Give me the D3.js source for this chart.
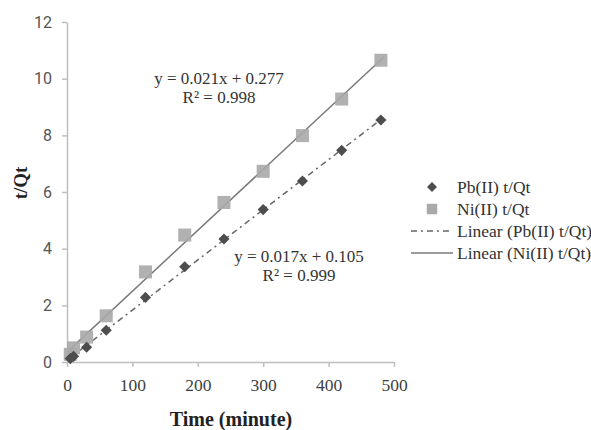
<!DOCTYPE html>
<html>
<head>
<meta charset="utf-8">
<script src="https://cdn.jsdelivr.net/npm/d3@7"></script>
<style>
  body { margin: 0; background: #fff; }
  svg { display: block; }
</style>
</head>
<body>
<svg id="chart" width="591" height="430"></svg>
<script>
// sampling times (minute)
const times = [5, 10, 30, 60, 120, 180, 240, 300, 360, 420, 480];
// t/Qt values
const pbValues = [0.12, 0.2, 0.52, 1.12, 2.28, 3.36, 4.34, 5.38, 6.39, 7.47, 8.54];
const niValues = [0.27, 0.5, 0.88, 1.63, 3.18, 4.48, 5.63, 6.73, 7.99, 9.28, 10.65];
const xTicks = [0, 100, 200, 300, 400, 500];
const yTicks = [0, 2, 4, 6, 8, 10, 12];
const legendLabels = ["Pb(II) t/Qt", "Ni(II) t/Qt", "Linear (Pb(II) t/Qt)", "Linear (Ni(II) t/Qt)"];
const pbEquation = ["y = 0.017x + 0.105", "R² = 0.999"];
const niEquation = ["y = 0.021x + 0.277", "R² = 0.998"];

const svg = d3.select("#chart");

let x = d3.scaleLinear().domain([0, 500]).range([67, 394]);
let y = d3.scaleLinear().domain([0, 12]).range([362, 22]);

const serif = "'Liberation Serif', 'DejaVu Serif', serif";
const axisColor = "#bfbfbf";

// least squares fit, same as the spreadsheet trendline
function fit(xs, ys) {
    let n = xs.length;
    let mx = d3.mean(xs), my = d3.mean(ys);
    let sxy = 0, sxx = 0;
    for (let i = 0; i < n; i++) {
        sxy += (xs[i] - mx) * (ys[i] - my);
        sxx += (xs[i] - mx) * (xs[i] - mx);
    }
    let b = sxy / sxx;
    return { slope: b, icpt: my - b * mx };
}

// axes
let xAxis = svg.append("g")
    .attr("transform", "translate(0," + y(0) + ")")
    .call(d3.axisBottom(x).tickValues(xTicks).tickSize(5).tickPadding(12).tickSizeOuter(0));
let yAxis = svg.append("g")
    .attr("transform", "translate(" + x(0) + ",0)")
    .call(d3.axisLeft(y).tickValues(yTicks).tickSize(5).tickPadding(10).tickSizeOuter(0));

[xAxis, yAxis].forEach(function(a) {
    a.select(".domain").attr("stroke", axisColor).attr("stroke-width", 1.5);
    a.selectAll(".tick line").attr("stroke", axisColor).attr("stroke-width", 1.5);
});
xAxis.selectAll(".tick text")
    .style("font-family", serif).style("font-size", "17.5px").attr("fill", "#404040");
yAxis.selectAll(".tick text")
    .style("font-family", "Roboto, 'DejaVu Sans', sans-serif").style("font-size", "16px").attr("fill", "#555");

// trendlines
let pbFit = fit(times, pbValues);
let niFit = fit(times, niValues);
let tMin = 0, tMax = 485;

svg.append("line")
    .attr("x1", x(tMin)).attr("y1", y(pbFit.icpt + pbFit.slope * tMin))
    .attr("x2", x(tMax)).attr("y2", y(pbFit.icpt + pbFit.slope * tMax))
    .attr("stroke", "#666").attr("stroke-width", 1.5)
    .attr("stroke-dasharray", "6,4,2,4");

svg.append("line")
    .attr("x1", x(tMin)).attr("y1", y(niFit.icpt + niFit.slope * tMin))
    .attr("x2", x(tMax)).attr("y2", y(niFit.icpt + niFit.slope * tMax))
    .attr("stroke", "#7a7a7a").attr("stroke-width", 1.5);

// Ni squares
svg.append("g")
    .selectAll("path")
    .data(times.map((t, i) => [t, niValues[i]]))
    .enter().append("path")
    .attr("d", d3.symbol().type(d3.symbolSquare).size(170))
    .attr("transform", d => "translate(" + x(d[0]) + "," + y(d[1]) + ")")
    .attr("fill", "#a9a9a9").attr("fill-opacity", 0.9);

// Pb diamonds
svg.append("g")
    .selectAll("path")
    .data(times.map((t, i) => [t, pbValues[i]]))
    .enter().append("path")
    .attr("d", d3.symbol().type(d3.symbolSquare).size(62))
    .attr("transform", d => "translate(" + x(d[0]) + "," + y(d[1]) + ") rotate(45)")
    .attr("fill", "#4d4d4d");

// equations
function equation(lines, cx, top) {
    svg.append("g").selectAll("text")
        .data(lines)
        .enter().append("text")
        .attr("x", cx)
        .attr("y", (d, i) => top + i * 19)
        .attr("text-anchor", "middle")
        .style("font-family", serif).style("font-size", "17px")
        .attr("fill", "#333")
        .text(d => d);
}
equation(niEquation, 219, 84);
equation(pbEquation, 299, 262);

// axis titles
svg.append("text")
    .attr("x", 231).attr("y", 426)
    .attr("text-anchor", "middle")
    .style("font-family", serif).style("font-size", "20px").style("font-weight", "bold")
    .attr("fill", "#222")
    .text("Time (minute)");

svg.append("text")
    .attr("transform", "translate(27,183) rotate(-90)")
    .attr("text-anchor", "middle")
    .style("font-family", serif).style("font-size", "19px").style("font-weight", "bold")
    .attr("fill", "#222")
    .text("t/Qt");

// legend
let legend = svg.append("g").attr("transform", "translate(411,187)");
legendLabels.forEach(function(label, i) {
    let row = legend.append("g").attr("transform", "translate(0," + i * 22 + ")");
    if (i === 0) {
        row.append("path")
            .attr("d", d3.symbol().type(d3.symbolSquare).size(50))
            .attr("transform", "translate(21,0) rotate(45)")
            .attr("fill", "#4d4d4d");
    } else if (i === 1) {
        row.append("path")
            .attr("d", d3.symbol().type(d3.symbolSquare).size(110))
            .attr("transform", "translate(21,0)")
            .attr("fill", "#a9a9a9");
    } else {
        row.append("line")
            .attr("x1", 0).attr("x2", 42).attr("y1", 0).attr("y2", 0)
            .attr("stroke", i === 2 ? "#666" : "#7a7a7a").attr("stroke-width", 1.5)
            .attr("stroke-dasharray", i === 2 ? "6,4,2,4" : null);
    }
    row.append("text")
        .attr("x", 46).attr("y", 6)
        .style("font-family", serif).style("font-size", "17.5px")
        .attr("fill", "#333")
        .text(label);
});
</script>
</body>
</html>
